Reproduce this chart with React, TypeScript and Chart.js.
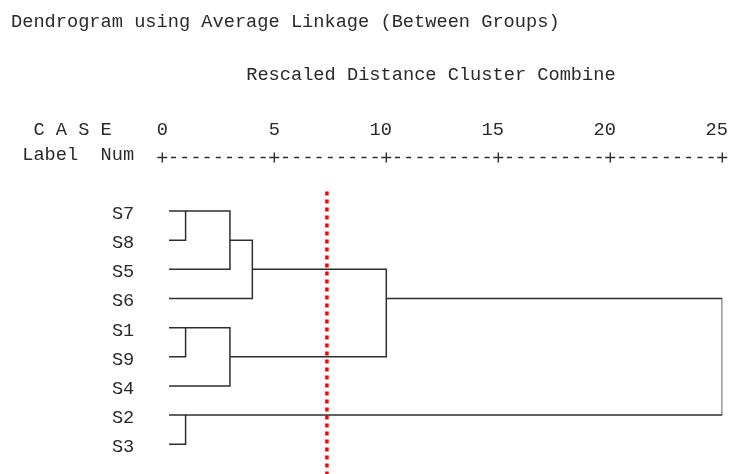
import { useEffect, useRef } from 'react';
import { Chart, registerables } from 'chart.js';

Chart.register(...registerables);

// ---- data ----
const leafLabels = ['S7', 'S8', 'S5', 'S6', 'S1', 'S9', 'S4', 'S2', 'S3'];
// merge k joins node mergeLeft[k] with node mergeRight[k]; leaves are nodes 0..8, merge k becomes node 9+k
const mergeLeft = [0, 4, 7, 9, 10, 12, 14, 15];
const mergeRight = [1, 5, 8, 2, 6, 3, 13, 11];
const mergeHeights = [1.04, 1.04, 1.04, 3.02, 3.02, 4.02, 10.0, 25.0];
const axisTicks = [0, 5, 10, 15, 20, 25];
const cutoffDistance = 7.35;
const titleText = 'Dendrogram using Average Linkage (Between Groups)';
const axisTitle = 'Rescaled Distance Cluster Combine';
const caseHeader = 'C A S E';
const columnHeader = 'Label  Num';

// ---- style / layout constants ----
const W = 729;
const H = 474;
const FONT_FAMILY = '"Liberation Mono", "DejaVu Sans Mono", monospace';
const FONT_SIZE = 18.67;
const PITCH = 11.2;
const COL0 = 11;
const TEXT_COLOR = '#2a2a2a';
const LINE_COLOR = '#2e2e2e';
const LEAF_START = 0.3;

function buildDatasets() {
  const nodeX: number[] = leafLabels.map(() => LEAF_START);
  const nodeRow: number[] = leafLabels.map((_, i) => i);
  const ds: any[] = [];
  mergeHeights.forEach((h, k) => {
    const a = mergeLeft[k];
    const b = mergeRight[k];
    ds.push({
      data: [
        { x: nodeX[a], y: nodeRow[a] },
        { x: h, y: nodeRow[a] },
        { x: h, y: nodeRow[b] },
        { x: nodeX[b], y: nodeRow[b] },
      ],
      borderColor: LINE_COLOR,
      borderWidth: 1.5,
      pointRadius: 0,
      tension: 0,
      fill: false,
      borderJoinStyle: 'miter',
      borderCapStyle: 'butt',
    });
    nodeX.push(h);
    nodeRow.push(Math.floor((nodeRow[a] + nodeRow[b]) / 2));
  });
  ds.push({
    data: [
      { x: cutoffDistance, y: -0.67 },
      { x: cutoffDistance, y: 9.1 },
    ],
    borderColor: '#ff0000',
    borderWidth: 3.5,
    borderDash: [4, 4],
    pointRadius: 0,
    fill: false,
    clip: false,
  });
  return ds;
}

const textPlugin = {
  id: 'spssText',
  afterDraw(chart: any) {
    const ctx = chart.ctx;
    const xs = chart.scales.x;
    ctx.save();
    ctx.fillStyle = TEXT_COLOR;
    ctx.font = `${FONT_SIZE}px ${FONT_FAMILY}`;
    ctx.textBaseline = 'alphabetic';
    ctx.textAlign = 'left';
    const col = (c: number) => COL0 + PITCH * c;
    ctx.fillText(titleText, col(0), 27);
    ctx.fillText(axisTitle, col(21), 80);
    ctx.fillText(caseHeader, col(2), 135);
    ctx.fillText(columnHeader, col(1), 160);

    // axis line: "+---------+" pattern drawn along the x scale
    const y = xs.bottom;
    ctx.strokeStyle = LINE_COLOR;
    ctx.lineWidth = 1.4;
    ctx.beginPath();
    axisTicks.forEach((t, i) => {
      const px = xs.getPixelForValue(t);
      ctx.moveTo(px - 5, y);
      ctx.lineTo(px + 5, y);
      ctx.moveTo(px, y - 5);
      ctx.lineTo(px, y + 5);
      if (i < axisTicks.length - 1) {
        const nx = xs.getPixelForValue(axisTicks[i + 1]);
        const step = (nx - px) / 10;
        for (let k = 1; k < 10; k++) {
          const c = px + step * k;
          ctx.moveTo(c - 2.5, y);
          ctx.lineTo(c + 2.5, y);
        }
      }
    });
    ctx.stroke();
    ctx.restore();
  },
};

const noPad = (s: any) => {
  s.paddingTop = 0;
  s.paddingBottom = 0;
  s.paddingLeft = 0;
  s.paddingRight = 0;
};

export default function App() {
  const ref = useRef<HTMLCanvasElement | null>(null);
  useEffect(() => {
    if (!ref.current) return;
    const chart = new Chart(ref.current, {
      type: 'line',
      data: { datasets: buildDatasets() },
      options: {
        responsive: false,
        animation: false,
        devicePixelRatio: 1,
        layout: { padding: { left: 0, top: 0, right: W - 722.3, bottom: 0 } },
        plugins: { legend: { display: false }, tooltip: { enabled: false }, title: { display: false } },
        scales: {
          x: {
            type: 'linear',
            position: 'top',
            min: 0,
            max: 25,
            grid: { display: false, drawTicks: false },
            border: { display: false },
            afterBuildTicks: (s: any) => {
              s.ticks = axisTicks.map((v) => ({ value: v }));
            },
            afterFit: (s: any) => {
              s.height = 157.5;
              noPad(s);
            },
            ticks: {
              autoSkip: false,
              maxRotation: 0,
              align: 'end',
              labelOffset: PITCH / 2,
              padding: 16,
              color: TEXT_COLOR,
              font: { family: FONT_FAMILY, size: FONT_SIZE },
              callback: (v: any) => String(v),
            },
          },
          y: {
            type: 'linear',
            reverse: true,
            min: -1.835,
            max: 9.02,
            grid: { display: false, drawTicks: false },
            border: { display: false },
            afterBuildTicks: (s: any) => {
              s.ticks = leafLabels.map((_, i) => ({ value: i }));
            },
            afterFit: (s: any) => {
              s.width = 162.3;
              noPad(s);
            },
            ticks: {
              autoSkip: false,
              padding: 28,
              labelOffset: 3,
              color: TEXT_COLOR,
              font: { family: FONT_FAMILY, size: FONT_SIZE },
              callback: (v: any) => leafLabels[v] ?? '',
            },
          },
        },
      },
      plugins: [textPlugin],
    });
    return () => chart.destroy();
  }, []);
  return (
    <div style={{ position: 'fixed', left: 0, top: 0, width: W, height: H, background: '#fff' }}>
      <canvas ref={ref} width={W} height={H} style={{ display: 'block', width: W, height: H }} />
    </div>
  );
}
